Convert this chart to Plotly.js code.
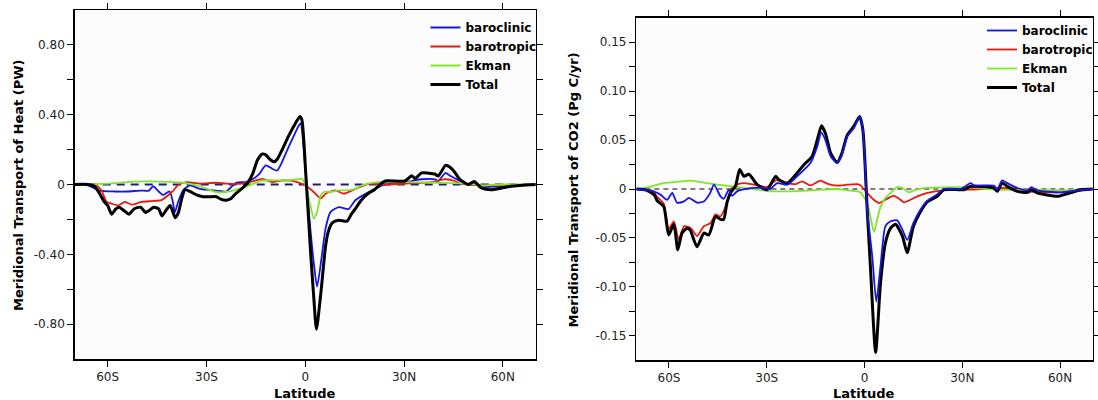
<!DOCTYPE html>
<html>
<head>
<meta charset="utf-8">
<script src="https://cdn.plot.ly/plotly-3.0.1.min.js"></script>
<style>
  html, body { margin: 0; padding: 0; background: #ffffff; }
  #chart { width: 1098px; height: 400px; }
</style>
</head>
<body>
<div id="chart"></div>
<script>
// ---------- Meridional heat transport (PW) ----------
const heatTotalLat = [-70,-66,-64,-62.5,-61,-60,-58.8,-57.5,-56.5,-55,-53.5,-52,-50,-48.5,-47.5,-46,-44.5,-43.5,-42,-41,-39.5,-38.5,-37.5,-36.5,-35,-33,-31,-29,-27,-25.5,-24,-22.5,-21,-19,-17.5,-16,-14.5,-13,-12,-10.5,-9.5,-8.5,-7,-5,-3,-1.6,-1.0,0.2,1.6,2.6,3.4,4.7,6.2,7,8.2,10.2,12.7,14,15.2,17,19.2,21,23,24.3,30.3,32.3,33.4,35.3,37.5,39.4,40.4,42.6,43.9,45.4,46.9,49.5,51.3,53.5,56.5,62.5,70];
const heatTotal    = [0,0,-0.01,-0.05,-0.10,-0.12,-0.17,-0.14,-0.13,-0.15,-0.17,-0.14,-0.13,-0.16,-0.15,-0.13,-0.14,-0.18,-0.14,-0.12,-0.19,-0.16,-0.08,-0.03,-0.04,-0.06,-0.07,-0.07,-0.07,-0.085,-0.09,-0.08,-0.05,-0.02,0.01,0.06,0.14,0.175,0.17,0.14,0.13,0.145,0.20,0.28,0.35,0.39,0.37,0.05,-0.38,-0.65,-0.83,-0.63,-0.35,-0.27,-0.22,-0.205,-0.21,-0.17,-0.14,-0.09,-0.05,-0.03,0.005,0.02,0.02,0.05,0.035,0.067,0.065,0.06,0.048,0.11,0.10,0.07,0.03,0,0.017,-0.02,-0.03,-0.01,0];

const heatClinicLat = [-70,-66,-62.5,-58,-54,-50,-47.5,-46.2,-44.5,-43.2,-41.2,-40.2,-39.6,-38.6,-37,-35,-32,-27,-24,-21,-18,-16,-14,-12,-10,-8.5,-5.4,-1.9,-1.4,0,1.3,2.6,3.6,5.1,6.2,7.7,10.2,13.2,15.2,19.2,24.3,30.3,32.3,35.3,39.4,40.4,42.6,44,47,49.5,51.3,53.5,58.5,70];
const heatClinic    = [0,-0.005,-0.035,-0.04,-0.04,-0.035,-0.035,-0.01,-0.04,-0.06,-0.04,-0.10,-0.16,-0.10,-0.03,-0.005,-0.025,-0.035,-0.04,0.01,0.014,0.03,0.06,0.11,0.09,0.08,0.20,0.34,0.35,0.10,-0.20,-0.45,-0.585,-0.40,-0.25,-0.157,-0.13,-0.14,-0.09,-0.045,0,0.01,0.02,0.03,0.03,0.02,0.067,0.05,0.02,0,0.01,-0.015,-0.01,0];

const heatTropicLat = [-70,-64,-62,-60.3,-58.8,-56.8,-54.8,-52.7,-49.7,-46.7,-43.7,-41.7,-40.3,-38.7,-36,-32,-27,-24,-20,-15,-13,-10,-7,-2.9,0,2.1,4.7,6.2,9.2,11.7,15.2,19.2,24.3,30.3,38.4,42.4,45.4,47,55,70];
const heatTropic    = [0,0,-0.03,-0.10,-0.11,-0.12,-0.10,-0.115,-0.10,-0.095,-0.09,-0.063,-0.04,-0.005,0.014,0.005,0.01,0.005,0.004,0.023,0.032,0.014,0.023,0.017,-0.006,-0.034,-0.08,-0.053,-0.034,-0.053,-0.025,0.004,0,0.005,0.014,0.03,0.02,0.005,-0.005,0];

const heatEkmanLat = [-70,-65,-60,-55,-52,-47,-42,-37,-32,-27,-23,-17,-13,-5,-1,0,1.1,2.6,3.6,4.7,5.6,7.7,10.2,12.2,15.2,17.2,22.3,30,40,49.5,53.5,60,70];
const heatEkman    = [0,0,0.005,0.012,0.017,0.018,0.015,0.01,-0.01,-0.043,-0.04,-0.005,0.023,0.023,0.032,0.0,-0.08,-0.195,-0.157,-0.063,-0.043,-0.043,-0.034,-0.034,-0.025,-0.005,0.014,0.014,0.01,0.005,-0.005,0,0];

// ---------- Meridional CO2 transport (Pg C/yr) ----------
const co2TotalLat = [-70,-67,-64.5,-63.6,-61.6,-60.1,-58.5,-57.3,-56,-54.5,-53.5,-51.4,-49.3,-47.8,-45.7,-44.2,-43.2,-42.2,-41.1,-39.6,-38.3,-37,-35.5,-32.9,-29.9,-27.3,-26.3,-23.7,-20.7,-18.6,-16.1,-14.5,-13.2,-12,-10.4,-8.4,-7,-5.3,-3.3,-1.5,-0.5,0.8,1.8,3.4,4.9,6.4,8,9.5,11.6,13.1,15,17.2,19.3,22.3,24.4,30.5,32.5,39.7,40.7,42.2,43.8,46.9,50,51.2,53,59.2,62.2,66.3,70];
const co2Total    = [0,-0.001,-0.006,-0.012,-0.018,-0.047,-0.036,-0.062,-0.045,-0.04,-0.042,-0.059,-0.045,-0.047,-0.028,-0.031,-0.031,-0.014,-0.004,0.003,0.020,0.013,0.015,0.0044,-0.0007,0.0129,0.0095,0.006,0.0163,0.0248,0.0333,0.0503,0.0646,0.057,0.0367,0.027,0.036,0.055,0.064,0.074,0.06,-0.02,-0.079,-0.167,-0.096,-0.055,-0.04,-0.036,-0.048,-0.065,-0.038,-0.023,-0.013,-0.0075,-0.0007,-0.0007,0.0027,0.001,-0.0024,0.006,0.0027,-0.0024,-0.0034,-0.0007,-0.004,-0.0075,-0.0048,-0.0007,0];

const co2ClinicLat = [-70,-67.7,-64.7,-62.5,-60.6,-59,-57.5,-55.4,-53.9,-51.4,-49.3,-47.5,-46.2,-44.2,-43.2,-41.6,-40.6,-39.1,-35,-30.9,-28.9,-26.8,-23.7,-20.7,-16.6,-14.5,-13.3,-12,-10.4,-8.4,-7,-5.3,-3.3,-1.5,-0.5,0.8,2.4,3.6,4.9,6.4,8,10,11.6,13.1,15,17.2,19.3,22,24.4,29.5,32.5,33.6,39.7,40.7,42.2,43.8,46.9,50,51.2,53,60.2,65.5,70];
const co2Clinic    = [0,-0.0007,-0.0024,-0.006,-0.011,-0.004,-0.014,-0.0127,-0.009,-0.014,-0.0127,-0.005,0.0044,-0.0075,-0.010,-0.0007,-0.007,-0.0024,0.001,0.001,0.0,0.006,0.0044,0.013,0.0265,0.0435,0.0578,0.050,0.0333,0.0265,0.034,0.0537,0.062,0.074,0.06,-0.02,-0.07,-0.115,-0.079,-0.038,-0.033,-0.032,-0.0415,-0.052,-0.0347,-0.021,-0.012,-0.006,0,0,0.006,0.0037,0.0034,-0.0007,0.0088,0.006,0.001,-0.0014,0.002,-0.0014,-0.0034,-0.0014,0];

const co2TropicLat = [-70,-65,-63.6,-61.6,-60.1,-58.5,-57,-55.4,-53.3,-51.4,-49.3,-47.3,-45.7,-44.2,-42.2,-41,-39.5,-37,-33,-30,-27,-24,-21,-19.2,-16.6,-13.5,-11.5,-8.4,-5.3,-2.2,-1.2,0.8,2.5,4.4,6.4,8,9,10.6,12.1,14.1,16.2,19.3,24.4,32.5,40.7,47,50,60,65,70];
const co2Tropic    = [0,-0.002,-0.008,-0.015,-0.041,-0.033,-0.052,-0.038,-0.040,-0.048,-0.038,-0.035,-0.026,-0.028,-0.014,0.0,0.004,0.006,0.004,0.002,0.009,0.006,0.005,0.0078,0.0037,0.0085,0.0055,0.0034,0.0044,0.005,0.0037,-0.004,-0.010,-0.0143,-0.011,-0.008,-0.007,-0.0099,-0.0136,-0.011,-0.0075,-0.004,-0.0014,-0.0007,0.001,0,-0.0024,-0.0034,-0.0024,0];

const co2EkmanLat = [-70,-66.7,-61.6,-57,-53.3,-48.3,-43.2,-38,-32.9,-27.8,-22.7,-17.6,-12.5,-8.4,-5.3,-2.2,-1.3,0.8,2.9,3.9,4.9,6,6.4,8.5,10,11.6,13.6,15.2,18.2,24.4,32.5,40.7,50,60,65.5,70];
const co2Ekman    = [0,0.0017,0.006,0.0075,0.0085,0.006,0.0037,0.0017,-0.0007,-0.0024,-0.0024,-0.0017,-0.0007,0,-0.0014,-0.0024,-0.0034,-0.014,-0.044,-0.031,-0.018,-0.011,-0.009,-0.0024,0.002,0.001,-0.0034,-0.0014,0.001,0.0017,0.0017,-0.0007,-0.0007,-0.0014,-0.0007,0];

// ---------- Axis labels ----------
const latTicks = [-60, -30, 0, 30, 60];
const latTickText = ['60S', '30S', '0', '30N', '60N'];
const heatTicks = [-0.8, -0.6, -0.4, -0.2, 0, 0.2, 0.4, 0.6, 0.8];
const heatTickText = ['-0.80', '', '-0.40', '', '0', '', '0.40', '', '0.80'];
const co2Ticks = [-0.15, -0.125, -0.10, -0.075, -0.05, -0.025, 0, 0.025, 0.05, 0.075, 0.10, 0.125, 0.15];
const co2TickText = ['-0.15', '', '-0.10', '', '-0.05', '', '0', '', '0.05', '', '0.10', '', '0.15'];
const seriesNames = ['baroclinic', 'barotropic', 'Ekman', 'Total'];

const COLORS = { clinic: '#1414e6', tropic: '#e81a10', ekman: '#80e62a', total: '#000000' };
const FONT = 'DejaVu Sans, Verdana, sans-serif';

function line(x, y, name, color, width, xa, ya, legend) {
  return {
    type: 'scatter', mode: 'lines', x: x, y: y, name: name,
    xaxis: xa, yaxis: ya, legend: legend,
    line: { color: color, width: width, shape: 'spline', smoothing: 0.6 },
    hoverinfo: 'skip'
  };
}

const traces = [
  line(heatClinicLat, heatClinic, seriesNames[0], COLORS.clinic, 1.8, 'x', 'y', 'legend'),
  line(heatTropicLat, heatTropic, seriesNames[1], COLORS.tropic, 1.8, 'x', 'y', 'legend'),
  line(heatEkmanLat, heatEkman, seriesNames[2], COLORS.ekman, 1.8, 'x', 'y', 'legend'),
  line(heatTotalLat, heatTotal, seriesNames[3], COLORS.total, 3, 'x', 'y', 'legend'),
  line(co2TropicLat, co2Tropic, seriesNames[1], COLORS.tropic, 1.8, 'x2', 'y2', 'legend2'),
  line(co2EkmanLat, co2Ekman, seriesNames[2], COLORS.ekman, 1.8, 'x2', 'y2', 'legend2'),
  line(co2TotalLat, co2Total, seriesNames[3], COLORS.total, 3, 'x2', 'y2', 'legend2'),
  line(co2ClinicLat, co2Clinic, seriesNames[0], COLORS.clinic, 1.8, 'x2', 'y2', 'legend2')
];
// keep the legend order baroclinic / barotropic / Ekman / Total in the CO2 panel
traces[7].legendrank = 1; traces[4].legendrank = 2; traces[5].legendrank = 3; traces[6].legendrank = 4;

const W = 1098, H = 400;
const px = v => v / W;
const py = v => 1 - v / H;

function xAxis(domain, anchor) {
  return {
    domain: domain, anchor: anchor, range: [-70, 70],
    tickmode: 'array', tickvals: latTicks, ticktext: latTickText,
    ticks: 'outside', ticklen: 6, tickwidth: 1, tickcolor: '#000',
    showline: true, linecolor: '#000', linewidth: 1.5, mirror: 'ticks',
    showgrid: false, zeroline: false,
    tickfont: { family: FONT, size: 12, color: '#222' }
  };
}
function yAxis(domain, anchor, range, vals, text) {
  return {
    domain: domain, anchor: anchor, range: range,
    tickmode: 'array', tickvals: vals, ticktext: text,
    ticks: 'outside', ticklen: 6, tickwidth: 1, tickcolor: '#000',
    showline: true, linecolor: '#000', linewidth: 1.5, mirror: 'ticks',
    showgrid: false, zeroline: false,
    tickfont: { family: FONT, size: 12, color: '#222' }
  };
}

const legendStyle = {
  bgcolor: 'rgba(255,255,255,0)', borderwidth: 0,
  font: { family: FONT, size: 12, color: '#000', weight: 'bold' },
  xanchor: 'left', yanchor: 'top', traceorder: 'normal', itemclick: false
};

const titleFont = { family: FONT, size: 13, color: '#000', weight: 'bold' };

const layout = {
  width: W, height: H,
  margin: { l: 0, r: 0, t: 0, b: 0 },
  paper_bgcolor: '#ffffff', plot_bgcolor: '#fcfcfc',
  showlegend: true,
  xaxis: xAxis([px(75), px(537.7)], 'y'),
  yaxis: yAxis([py(359), py(10)], 'x', [-1, 1], heatTicks, heatTickText),
  xaxis2: xAxis([px(638.7), px(1096.7)], 'y2'),
  yaxis2: yAxis([py(360.3), py(17.7)], 'x2', [-0.175, 0.175], co2Ticks, co2TickText),
  legend: Object.assign({ x: px(427), y: py(13) }, legendStyle),
  legend2: Object.assign({ x: px(986), y: py(16) }, legendStyle),
  shapes: [
    { type: 'line', layer: 'below', xref: 'x domain', yref: 'y', x0: 0, x1: 1, y0: 0, y1: 0,
      line: { color: '#1e1e6e', width: 2, dash: '8px,6px' } },
    { type: 'line', layer: 'below', xref: 'x2 domain', yref: 'y2', x0: 0, x1: 1, y0: 0, y1: 0,
      line: { color: '#000000', width: 1, dash: '5px,4px' } }
  ],
  annotations: [
    { text: 'Meridional Transport of Heat (PW)', xref: 'paper', yref: 'paper',
      x: px(18), y: py(185), textangle: -90, showarrow: false,
      xanchor: 'center', yanchor: 'middle', font: titleFont },
    { text: 'Latitude', xref: 'paper', yref: 'paper', x: px(306.3), y: py(393),
      showarrow: false, xanchor: 'center', yanchor: 'middle', font: titleFont },
    { text: 'Meridional Transport of CO2 (Pg C/yr)', xref: 'paper', yref: 'paper',
      x: px(576), y: py(189.5), textangle: -90, showarrow: false,
      xanchor: 'center', yanchor: 'middle', font: titleFont },
    { text: 'Latitude', xref: 'paper', yref: 'paper', x: px(867.3), y: py(393),
      showarrow: false, xanchor: 'center', yanchor: 'middle', font: titleFont }
  ]
};

Plotly.newPlot('chart', traces, layout, { staticPlot: true, displayModeBar: false });
</script>
</body>
</html>
